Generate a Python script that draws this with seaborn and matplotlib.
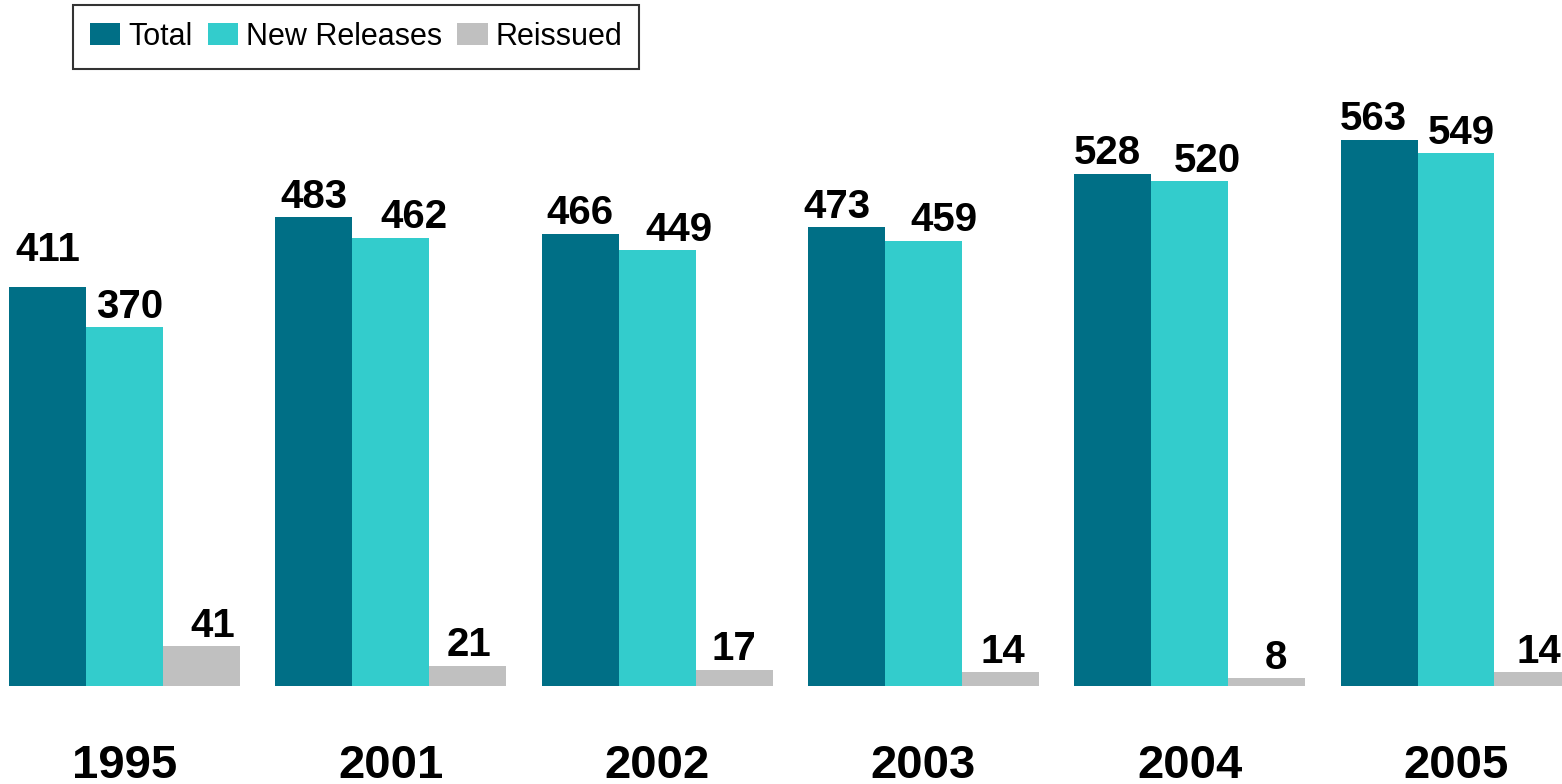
import matplotlib
matplotlib.use("Agg")
import matplotlib.pyplot as plt
import seaborn as sns
import pandas as pd
from matplotlib.patches import Patch

years = ["1995", "2001", "2002", "2003", "2004", "2005"]
total = [411, 483, 466, 473, 528, 563]
new_releases = [370, 462, 449, 459, 520, 549]
reissued = [41, 21, 17, 14, 8, 14]
series = ["Total", "New Releases", "Reissued"]
colors = ["#006F86", "#33CCCC", "#C0C0C0"]

# small manual nudges of the value labels (points), as in the original
label_dx = [
    [0, 0, 0, -7, -4, -4],
    [4, 17, 16, 15, 13, 4],
    [8, 1, 0, 2, 7, 4],
]
label_dy = [
    [12, 0, 0, 0, 0, 0],
    [0, 0, 0, 0, 0, 0],
    [0, 0, 0, 0, 0, 0],
]

df = pd.DataFrame({
    "year": years * 3,
    "series": ["Total"] * 6 + ["New Releases"] * 6 + ["Reissued"] * 6,
    "value": total + new_releases + reissued,
})

sns.set_theme(style="white")
plt.rcParams["font.family"] = ["Liberation Sans", "DejaVu Sans"]

fig = plt.figure(figsize=(15.62, 7.84), dpi=100)
ax = fig.add_axes([0, (784 - 686) / 784, 1, 686 / 784])

sns.barplot(data=df, x="year", y="value", hue="series", hue_order=series,
            palette=colors, width=0.867, saturation=1, ax=ax, legend=False,
            linewidth=0, edgecolor="none")

ax.set_ylim(0, 707)
ax.set_xlim(-0.4675, 5.398)
for s in ax.spines.values():
    s.set_visible(False)
ax.set_yticks([])
ax.set_xlabel("")
ax.set_ylabel("")
ax.tick_params(axis="x", length=0, pad=42, labelsize=34, labelcolor="black")
for lbl in ax.get_xticklabels():
    lbl.set_fontweight("bold")

for ci, cont in enumerate(ax.containers):
    for bi, bar in enumerate(cont):
        h = bar.get_height()
        ax.annotate(f"{int(round(h))}", (bar.get_x() + bar.get_width() / 2, h),
                    xytext=(label_dx[ci][bi], 1 + label_dy[ci][bi]),
                    textcoords="offset points",
                    ha="center", va="bottom", fontsize=29, fontweight="bold",
                    color="black")

handles = [Patch(facecolor=c, edgecolor="none") for c in colors]
leg = fig.legend(handles, series, loc="upper left", bbox_to_anchor=(73 / 1562, 1 - 5 / 784),
                 ncol=3, fontsize=22, frameon=True, fancybox=False,
                 handlelength=1.0, handleheight=0.75, handletextpad=0.25,
                 columnspacing=0.5, borderpad=0.55, borderaxespad=0, labelcolor="black")
leg.get_frame().set_edgecolor("black")
leg.get_frame().set_linewidth(1.5)

fig.savefig("out.png", dpi=100)
